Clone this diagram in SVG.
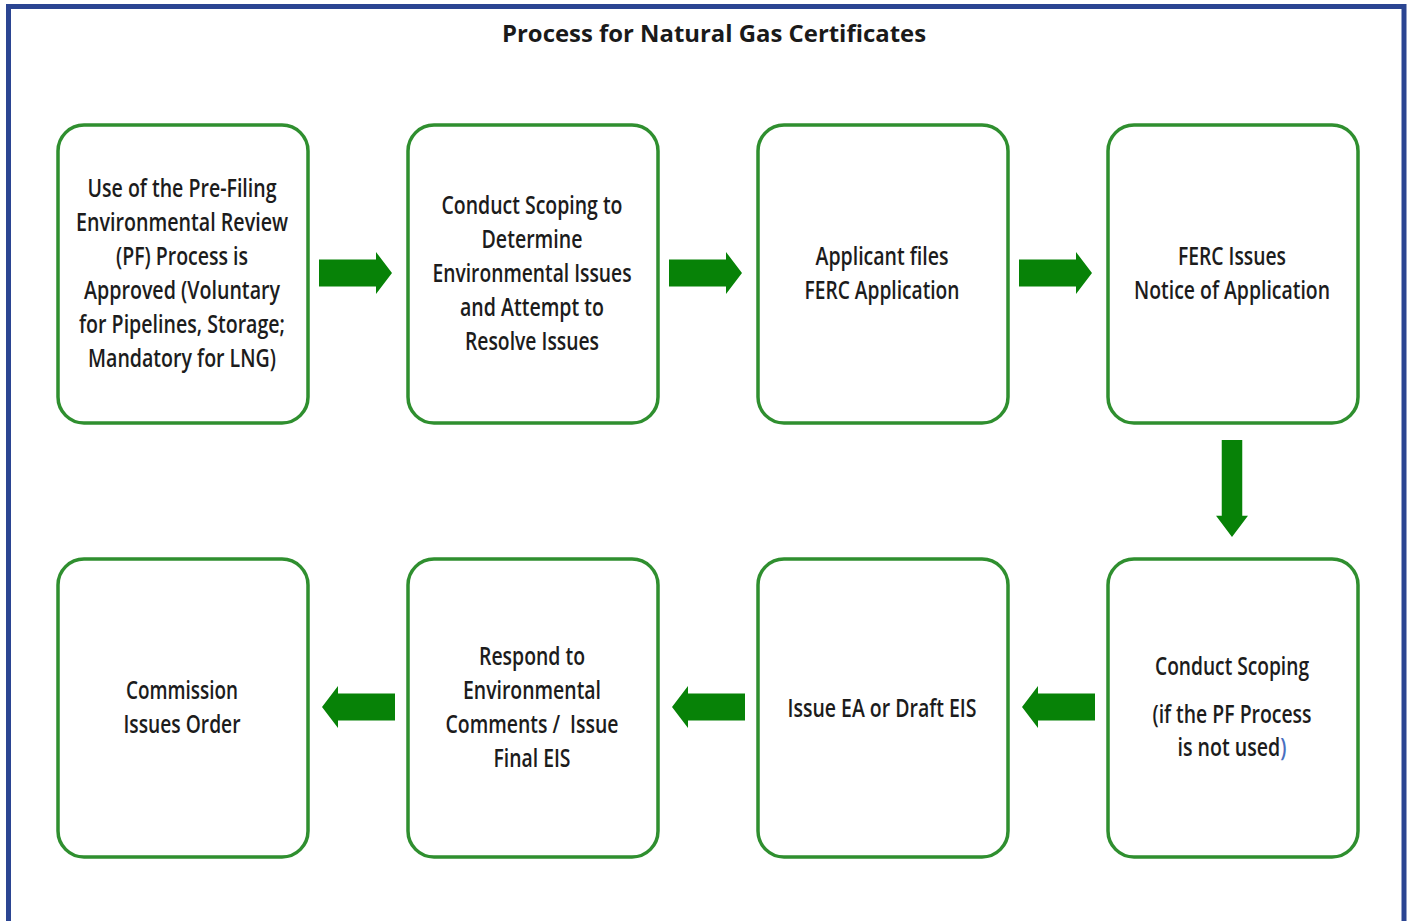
<svg xmlns="http://www.w3.org/2000/svg" width="1408" height="921" viewBox="0 0 1408 921">
<style>
.box{fill:#ffffff;stroke:#2f8f2f;stroke-width:3.5}
.t{font-family:"Open Sans","Roboto","Liberation Sans",sans-serif;font-size:25px;font-weight:600;fill:#1c1c1c;text-anchor:middle}
.title{font-family:"Open Sans","Liberation Sans",sans-serif;font-size:24px;font-weight:700;fill:#1a1a1a;text-anchor:middle}
.arr{fill:#078207}
</style>
<defs>
<path id="ar" d="M0,-13.5 H57 V-21 L73,0 L57,21 V13.5 H0 Z"/>
</defs>
<rect x="0" y="0" width="1408" height="921" fill="#ffffff"/>
<rect x="8.5" y="6.5" width="1395.5" height="1000" fill="none" stroke="#2b4592" stroke-width="5"/>
<text class="title" x="714" y="42" textLength="424" lengthAdjust="spacingAndGlyphs">Process for Natural Gas Certificates</text>

<g id="node1">
<rect class="box" x="58" y="125" width="250" height="298" rx="26"/>
<text class="t" x="182" y="197" textLength="189" lengthAdjust="spacingAndGlyphs">Use of the Pre-Filing</text>
<text class="t" x="182" y="231" textLength="212" lengthAdjust="spacingAndGlyphs">Environmental Review</text>
<text class="t" x="182" y="265" textLength="132" lengthAdjust="spacingAndGlyphs">(PF) Process is</text>
<text class="t" x="182" y="299" textLength="196" lengthAdjust="spacingAndGlyphs">Approved (Voluntary</text>
<text class="t" x="182" y="333" textLength="206" lengthAdjust="spacingAndGlyphs">for Pipelines, Storage;</text>
<text class="t" x="182" y="367" textLength="188" lengthAdjust="spacingAndGlyphs">Mandatory for LNG)</text>
</g>
<g id="node2">
<rect class="box" x="408" y="125" width="250" height="298" rx="26"/>
<text class="t" x="532" y="214" textLength="181" lengthAdjust="spacingAndGlyphs">Conduct Scoping to</text>
<text class="t" x="532" y="248" textLength="101" lengthAdjust="spacingAndGlyphs">Determine</text>
<text class="t" x="532" y="282" textLength="199" lengthAdjust="spacingAndGlyphs">Environmental Issues</text>
<text class="t" x="532" y="316" textLength="144" lengthAdjust="spacingAndGlyphs">and Attempt to</text>
<text class="t" x="532" y="350" textLength="134" lengthAdjust="spacingAndGlyphs">Resolve Issues</text>
</g>
<g id="node3">
<rect class="box" x="758" y="125" width="250" height="298" rx="26"/>
<text class="t" x="882" y="265" textLength="133" lengthAdjust="spacingAndGlyphs">Applicant files</text>
<text class="t" x="882" y="299" textLength="155" lengthAdjust="spacingAndGlyphs">FERC Application</text>
</g>
<g id="node4">
<rect class="box" x="1108" y="125" width="250" height="298" rx="26"/>
<text class="t" x="1232" y="265" textLength="108" lengthAdjust="spacingAndGlyphs">FERC Issues</text>
<text class="t" x="1232" y="299" textLength="196" lengthAdjust="spacingAndGlyphs">Notice of Application</text>
</g>
<g id="node5">
<rect class="box" x="1108" y="559" width="250" height="298" rx="26"/>
<text class="t" x="1232" y="675" textLength="154" lengthAdjust="spacingAndGlyphs">Conduct Scoping</text>
<text class="t" x="1232" y="723" textLength="159" lengthAdjust="spacingAndGlyphs">(if the PF Process</text>
<text class="t" x="1232" y="756" textLength="109" lengthAdjust="spacingAndGlyphs">is not used<tspan style="fill:#4a6fc0">)</tspan></text>
</g>
<g id="node6">
<rect class="box" x="758" y="559" width="250" height="298" rx="26"/>
<text class="t" x="882" y="717" textLength="189" lengthAdjust="spacingAndGlyphs">Issue EA or Draft EIS</text>
</g>
<g id="node7">
<rect class="box" x="408" y="559" width="250" height="298" rx="26"/>
<text class="t" x="532" y="665" textLength="106" lengthAdjust="spacingAndGlyphs">Respond to</text>
<text class="t" x="532" y="699" textLength="138" lengthAdjust="spacingAndGlyphs">Environmental</text>
<text class="t" x="532" y="733" textLength="173" lengthAdjust="spacingAndGlyphs" xml:space="preserve">Comments /  Issue</text>
<text class="t" x="532" y="767" textLength="77" lengthAdjust="spacingAndGlyphs">Final EIS</text>
</g>
<g id="node8">
<rect class="box" x="58" y="559" width="250" height="298" rx="26"/>
<text class="t" x="182" y="699" textLength="112" lengthAdjust="spacingAndGlyphs">Commission</text>
<text class="t" x="182" y="733" textLength="117" lengthAdjust="spacingAndGlyphs">Issues Order</text>
</g>

<g id="connectors" class="arr">
<use href="#ar" transform="translate(319,273)"/>
<use href="#ar" transform="translate(669,273)"/>
<use href="#ar" transform="translate(1019,273)"/>
<use href="#ar" transform="translate(1232,440) rotate(90) scale(1.33,0.76)"/>
<use href="#ar" transform="translate(1095,707) rotate(180)"/>
<use href="#ar" transform="translate(745,707) rotate(180)"/>
<use href="#ar" transform="translate(395,707) rotate(180)"/>
</g>
</svg>
